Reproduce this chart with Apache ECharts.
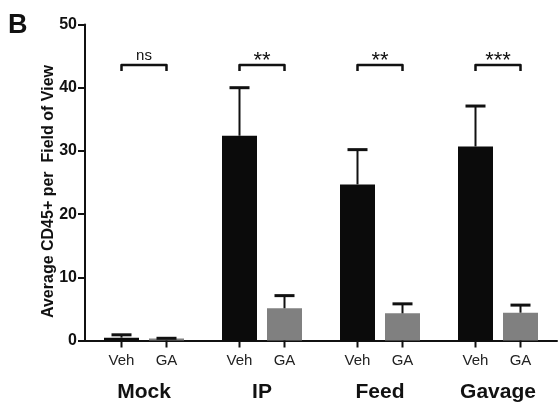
<!DOCTYPE html>
<html>
<head>
<meta charset="utf-8">
<script src="https://cdn.jsdelivr.net/npm/echarts@6/dist/echarts.min.js"></script>
<style>html,body{margin:0;padding:0;background:#fff}#c{width:559px;height:407px}</style>
</head>
<body>
<div id="c"></div>
<script>
var groups = ['Mock', 'IP', 'Feed', 'Gavage'];
var seriesNames = ['Veh', 'GA'];
var vehMean = [0.45, 32.4, 24.7, 30.7];
var vehErr  = [0.45, 7.6, 5.5, 6.4];
var gaMean  = [0.3, 5.1, 4.3, 4.4];
var gaErr   = [0.05, 2.0, 1.5, 1.2];
var sigLabels = ['ns', '**', '**', '***'];
var sigLevel = 43.6;
var yTicks = [0, 10, 20, 30, 40, 50];

var BAR_W = 35, BAR_GAP = 10;
var OFF = (BAR_W + BAR_GAP) / 2;
var FONT = 'Liberation Sans, Arial, sans-serif';

function errData(means, errs) {
  return means.map(function (m, i) { return [i, m, m + errs[i]]; });
}

var chart = echarts.init(document.getElementById('c'), null, { renderer: 'canvas' });

function errSeries(name, means, errs, sign) {
  return {
    type: 'custom', name: name + 'err', z: 5,
    data: errData(means, errs),
    renderItem: function (params, api) {
      var base = api.coord([api.value(0), 0]);
      var top = api.coord([api.value(0), api.value(1)]);
      var hi = api.coord([api.value(0), api.value(2)]);
      var x = base[0] + sign * OFF;
      var children = [];
      if (hi[1] < top[1] - 0.5) {
        children.push({ type: 'line', shape: { x1: x, y1: top[1], x2: x, y2: hi[1] }, style: { stroke: '#111', lineWidth: 2 } });
      }
      children.push({ type: 'line', shape: { x1: x - 10, y1: hi[1], x2: x + 10, y2: hi[1] }, style: { stroke: '#111', lineWidth: 3 } });
      children.push({ type: 'line', shape: { x1: x, y1: base[1], x2: x, y2: base[1] + 7 }, style: { stroke: '#111', lineWidth: 2 } });
      return { type: 'group', children: children };
    }
  };
}

var option = {
  animation: false,
  backgroundColor: '#fff',
  grid: { left: 85, right: 2, top: 24.5, bottom: 66.5 },
  graphic: [{
    type: 'text', left: 8, top: 12,
    style: { text: 'B', font: 'bold 27px ' + FONT, fill: '#111' }
  }],
  xAxis: {
    type: 'category', data: groups,
    axisLine: { lineStyle: { color: '#111', width: 2 } },
    axisTick: { show: false },
    axisLabel: { color: '#111', fontFamily: FONT, fontWeight: 'bold', fontSize: 21, margin: 41 }
  },
  yAxis: {
    type: 'value', min: 0, max: 50, interval: 10,
    name: 'Average CD45+ per  Field of View',
    nameLocation: 'middle', nameGap: 28, nameRotate: 90, nameMoveOverlap: false,
    nameTextStyle: { color: '#111', fontFamily: FONT, fontWeight: 'bold', fontSize: 16, padding: [0, 18, 0, 0] },
    axisLine: { show: true, lineStyle: { color: '#111', width: 2 } },
    axisTick: { show: true, length: 7, lineStyle: { color: '#111', width: 2 } },
    splitLine: { show: false },
    axisLabel: { color: '#111', fontFamily: FONT, fontWeight: 'bold', fontSize: 16, margin: 8,
      formatter: function (v) { return yTicks.indexOf(v) >= 0 ? String(v) : ''; } }
  },
  series: [
    {
      type: 'bar', name: seriesNames[0], data: vehMean, barWidth: BAR_W, barGap: (BAR_GAP / BAR_W * 100) + '%',
      itemStyle: { color: '#0b0b0b' },
      label: { show: true, position: 'bottom', distance: 13, formatter: seriesNames[0], color: '#222', fontFamily: FONT, fontSize: 15 }
    },
    {
      type: 'bar', name: seriesNames[1], data: gaMean, barWidth: BAR_W,
      itemStyle: { color: '#808080' },
      label: { show: true, position: 'bottom', distance: 13, formatter: seriesNames[1], color: '#222', fontFamily: FONT, fontSize: 15 }
    },
    errSeries('Veh', vehMean, vehErr, -1),
    errSeries('GA', gaMean, gaErr, 1),
    {
      type: 'custom', name: 'sig', z: 6,
      data: groups.map(function (g, i) { return [i, sigLevel]; }),
      renderItem: function (params, api) {
        var p = api.coord([api.value(0), api.value(1)]);
        var x1 = p[0] - OFF, x2 = p[0] + OFF, y = p[1];
        var lab = sigLabels[params.dataIndex];
        var isStar = lab.indexOf('*') >= 0;
        return {
          type: 'group', children: [
            { type: 'polyline', shape: { points: [[x1, y + 6], [x1, y], [x2, y], [x2, y + 6]] },
              style: { stroke: '#111', lineWidth: 2.5, fill: null, lineJoin: 'round' } },
            { type: 'text', x: p[0], y: isStar ? y + 7 : y - 2,
              style: { text: lab, font: (isStar ? '22px ' : '15px ') + FONT, fill: '#111', align: 'center', verticalAlign: 'bottom' } }
          ]
        };
      }
    }
  ]
};
chart.setOption(option);
</script>
</body>
</html>
